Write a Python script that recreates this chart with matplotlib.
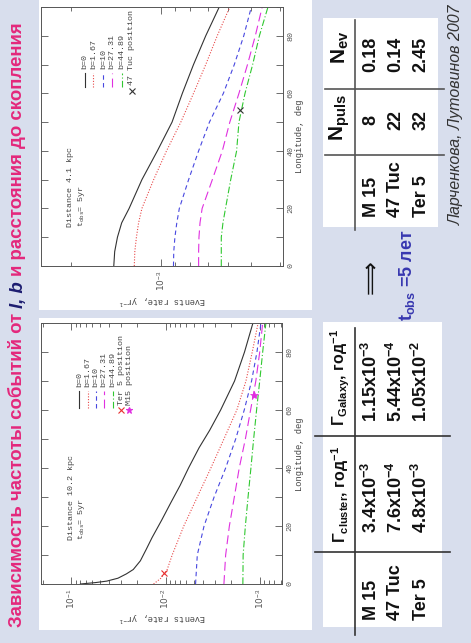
import matplotlib
matplotlib.use("Agg")
import matplotlib.pyplot as plt
import numpy as np
from matplotlib.lines import Line2D
from matplotlib.patches import Rectangle
from matplotlib.ticker import LogLocator, FuncFormatter, NullFormatter, MultipleLocator

plt.rcParams["mathtext.fontset"] = "custom"
plt.rcParams["mathtext.rm"] = "Liberation Sans"
plt.rcParams["mathtext.bf"] = "Liberation Sans:bold"
plt.rcParams["mathtext.it"] = "Liberation Sans:italic"

W, H = 471, 643

# ---- data: 47 Tuc, distance 4.1 kpc ----
lon_tuc = [0, 5, 10, 15, 20, 30, 40, 50, 60, 70, 80, 90]
tuc_b0 = [1.44e-3, 1.43e-3, 1.40e-3, 1.355e-3, 1.28e-3, 1.16e-3, 1.03e-3, 9.2e-4, 8.5e-4, 7.8e-4, 7.1e-4, 6.4e-4]
tuc_b167 = [1.23e-3, 1.225e-3, 1.21e-3, 1.19e-3, 1.16e-3, 1.06e-3, 9.6e-4, 8.6e-4, 7.8e-4, 7.1e-4, 6.5e-4, 5.9e-4]
tuc_b10 = [9.1e-4, 9.08e-4, 9.0e-4, 8.87e-4, 8.7e-4, 8.1e-4, 7.5e-4, 6.9e-4, 6.2e-4, 5.7e-4, 5.3e-4, 5.0e-4]
tuc_b2731 = [7.5e-4, 7.5e-4, 7.48e-4, 7.42e-4, 7.3e-4, 6.75e-4, 6.25e-4, 5.9e-4, 5.5e-4, 5.15e-4, 4.85e-4, 4.6e-4]
tuc_b4489 = [6.3e-4, 6.3e-4, 6.3e-4, 6.22e-4, 6.1e-4, 5.86e-4, 5.6e-4, 5.5e-4, 5.25e-4, 4.95e-4, 4.7e-4, 4.4e-4]
tuc_pos = (54.1, 5.44e-4)

# ---- data: distance 10.2 kpc (Ter 5, M15) ----
lon_b0 = [0, 0.5, 1, 2, 3.5, 5, 8, 12, 16, 22, 28, 34, 40, 47, 53, 60, 70, 80, 90]
far_b0 = [8.0e-2, 5.5e-2, 4.2e-2, 3.2e-2, 2.6e-2, 2.2e-2, 1.85e-2, 1.6e-2, 1.39e-2, 1.1e-2,
          8.8e-3, 7.0e-3, 5.7e-3, 4.4e-3, 3.4e-3, 2.6e-3, 1.85e-3, 1.45e-3, 1.18e-3]
lon_b167 = [0, 2, 5, 10, 20, 30, 40, 50, 60, 70, 80, 90]
far_b167 = [1.34e-2, 1.12e-2, 9.6e-3, 8.5e-3, 6.4e-3, 4.6e-3, 3.3e-3, 2.4e-3, 1.75e-3, 1.4e-3, 1.2e-3, 1.04e-3]
lon_far = [0, 10, 20, 30, 40, 50, 60, 70, 80, 90]
far_b10 = [4.8e-3, 4.6e-3, 3.9e-3, 3.05e-3, 2.3e-3, 1.8e-3, 1.46e-3, 1.22e-3, 1.07e-3, 9.7e-4]
far_b2731 = [2.4e-3, 2.3e-3, 2.1e-3, 1.86e-3, 1.65e-3, 1.42e-3, 1.25e-3, 1.1e-3, 1.0e-3, 9.3e-4]
far_b4489 = [1.51e-3, 1.5e-3, 1.42e-3, 1.33e-3, 1.24e-3, 1.16e-3, 1.08e-3, 1.0e-3, 9.3e-4, 8.6e-4]
ter5_pos = (3.8, 1.05e-2)
m15_pos = (65.0, 1.15e-3)

b_labels = ["b=0", "b=1.67", "b=10", "b=27.31", "b=44.89"]
line_colors = ["#333333", "#e84848", "#4848e0", "#e030e0", "#30c830"]
line_styles = ["-", (0, (1, 1.5)), (0, (4, 3)), (0, (8, 4)), (0, (6, 2, 1, 2))]

# ---- tables ----
names = ["M 15", "47 Tuc", "Ter 5"]
n_puls = ["8", "22", "32"]
n_ev = ["0.18", "0.14", "2.45"]
g_cluster = [r"3.4x10$^{\mathbf{-3}}$", r"7.6x10$^{\mathbf{-4}}$", r"4.8x10$^{\mathbf{-3}}$"]
g_galaxy = [r"1.15x10$^{\mathbf{-3}}$", r"5.44x10$^{\mathbf{-4}}$", r"1.05x10$^{\mathbf{-2}}$"]

BG = "#d8deed"
PINK = "#e4287c"
NAVY = "#1c1c70"
BLUE = "#3838b0"
PLOTFONT = "Liberation Mono"


def fx(px):
    return px / W


def fy(py):
    return 1 - py / H


def frect(x0, y0, x1, y1, **kw):
    fig.add_artist(Rectangle((fx(x0), fy(y1)), fx(x1) - fx(x0), fy(y0) - fy(y1),
                             transform=fig.transFigure, **kw))


def fline(x0, y0, x1, y1, **kw):
    fig.add_artist(Line2D([fx(x0), fx(x1)], [fy(y0), fy(y1)], transform=fig.transFigure, **kw))


def vtext(x, y, s, **kw):
    kw.setdefault("rotation", 90)
    kw.setdefault("rotation_mode", "anchor")
    return fig.text(fx(x), fy(y), s, **kw)


def log_label(v, pos):
    return r"10$^{%d}$" % int(round(np.log10(v)))


fig = plt.figure(figsize=(W / 100, H / 100), dpi=100)
fig.patch.set_facecolor(BG)

# white panels
frect(39, 0, 312, 310, facecolor="white", edgecolor="none", zorder=0)
frect(39, 318, 312, 630, facecolor="white", edgecolor="none", zorder=0)
frect(323, 18, 438, 227, facecolor="white", edgecolor="none", zorder=0)
frect(323, 322, 442, 627, facecolor="white", edgecolor="none", zorder=0)


def setup_axes(ax, xlim):
    ax.set_xscale("log")
    ax.set_xlim(*xlim)
    ax.set_ylim(0, 90)
    ax.xaxis.set_major_locator(LogLocator(base=10))
    ax.xaxis.set_minor_locator(LogLocator(base=10, subs=np.arange(2, 10)))
    ax.xaxis.set_major_formatter(FuncFormatter(log_label))
    ax.xaxis.set_minor_formatter(NullFormatter())
    ax.yaxis.set_major_locator(MultipleLocator(20))
    ax.yaxis.set_minor_locator(MultipleLocator(10))
    ax.tick_params(which="both", direction="in", top=True, bottom=True, left=True, right=True,
                   colors="#555555", width=0.6)
    ax.tick_params(which="major", length=5)
    ax.tick_params(which="minor", length=3)
    ax.tick_params(axis="y", which="minor", length=5)
    ax.tick_params(axis="y", labelleft=False, labelright=True, labelrotation=90, labelsize=6, pad=3)
    ax.tick_params(axis="x", labelrotation=90, labelsize=6.5, pad=3)
    for lab in ax.get_yticklabels():
        lab.set_fontfamily(PLOTFONT)
        lab.set_va("center")
    for sp in ax.spines.values():
        sp.set_color("#555555")
        sp.set_linewidth(0.7)


def draw_legend(ax, xs, y0, y1, ytext, extra):
    # xs: axes-fraction x of each row; samples run from y0 to y1 (axes fraction)
    for i, (lab, c, ls) in enumerate(zip(b_labels, line_colors, line_styles)):
        ax.plot([xs[i], xs[i]], [y0, y1], color=c, ls=ls, lw=0.8, transform=ax.transAxes)
        ax.text(xs[i], ytext, lab, transform=ax.transAxes, rotation=90, rotation_mode="anchor",
                ha="left", va="center", fontsize=6, family=PLOTFONT, color="#444444")
    for j, (lab, mk, c, ym, yt) in enumerate(extra):
        xi = xs[len(b_labels) + j]
        ax.plot([xi], [ym], marker=mk, color=c, ms=5, mew=0.8, ls="none", transform=ax.transAxes)
        ax.text(xi, yt, lab, transform=ax.transAxes, rotation=90, rotation_mode="anchor",
                ha="left", va="center", fontsize=6, family=PLOTFONT, color="#444444")


# ---- top plot: 47 Tuc ----
ax1 = fig.add_axes([fx(41), fy(266), fx(283) - fx(41), fy(7) - fy(266)])
ax1.set_facecolor("none")
for vals, c, ls in zip([tuc_b0, tuc_b167, tuc_b10, tuc_b2731, tuc_b4489], line_colors, line_styles):
    ax1.plot(vals, lon_tuc, color=c, ls=ls, lw=0.8)
ax1.plot([tuc_pos[1]], [tuc_pos[0]], marker="x", color="#333333", ms=5, mew=0.8, ls="none")
setup_axes(ax1, (2.52e-3, 3.92e-4))
draw_legend(ax1, [0.182, 0.216, 0.258, 0.292, 0.334, 0.375], 0.69, 0.745, 0.762,
            [("47 Tuc position", "x", "#333333", 0.675, 0.70)])
ax1.text(0.12, 0.15, "Distance 4.1 kpc", transform=ax1.transAxes, rotation=90, rotation_mode="anchor",
         ha="left", va="center", fontsize=6, family=PLOTFONT, color="#444444")
ax1.text(0.168, 0.15, r"t$_{\mathregular{obs}}$= 5yr", transform=ax1.transAxes, rotation=90,
         rotation_mode="anchor", ha="left", va="center", fontsize=6, family=PLOTFONT, color="#444444")

# ---- bottom plot: Ter 5, M15 ----
ax2 = fig.add_axes([fx(41), fy(584), fx(282) - fx(41), fy(323) - fy(584)])
ax2.set_facecolor("none")
far_lons = [lon_b0, lon_b167, lon_far, lon_far, lon_far]
far_vals = [far_b0, far_b167, far_b10, far_b2731, far_b4489]
for lons, vals, c, ls in zip(far_lons, far_vals, line_colors, line_styles):
    ax2.plot(vals, lons, color=c, ls=ls, lw=0.8)
ax2.plot([ter5_pos[1]], [ter5_pos[0]], marker="x", color="#e83030", ms=5, mew=0.8, ls="none")
ax2.plot([m15_pos[1]], [m15_pos[0]], marker="*", color="#e030e0", ms=6, mew=0.5, ls="none")
setup_axes(ax2, (0.21, 5.8e-4))
draw_legend(ax2, [0.159, 0.193, 0.228, 0.262, 0.297, 0.332, 0.366], 0.675, 0.74, 0.754,
            [("Ter 5 position", "x", "#e83030", 0.667, 0.685),
             ("M15 position", "*", "#e030e0", 0.667, 0.685)])
ax2.text(0.128, 0.168, "Distance 10.2 kpc", transform=ax2.transAxes, rotation=90, rotation_mode="anchor",
         ha="left", va="center", fontsize=6, family=PLOTFONT, color="#444444")
ax2.text(0.17, 0.168, r"t$_{\mathregular{obs}}$= 5yr", transform=ax2.transAxes, rotation=90,
         rotation_mode="anchor", ha="left", va="center", fontsize=6, family=PLOTFONT, color="#444444")

# axis labels (slide is rotated: longitude runs up, rate runs left)
for yc in (136, 454):
    vtext(300, yc, "Longitude, deg", ha="center", va="center", fontsize=6.3, family=PLOTFONT,
          color="#444444")
for yc, xc in ((300, 162), (617, 162)):
    fig.text(fx(xc), fy(yc), r"Events rate, yr$^{-1}$", rotation=180, ha="center", va="center",
             fontsize=6.3, family=PLOTFONT, color="#444444")

# ---- table 1: N_puls, N_ev ----
tk = dict(fontsize=13, weight="bold", family="Liberation Sans", color="#111111")
hk = dict(fontsize=15, weight="bold", family="Liberation Sans", color="#111111")
vtext(340, 47, r"$\mathbf{N}_{\mathbf{ev}}$", ha="center", va="center", **hk)
vtext(340, 118, r"$\mathbf{N}_{\mathbf{puls}}$", ha="center", va="center", **hk)
rows_x = [371, 396, 421]
for i, xr in enumerate(rows_x):
    vtext(xr, 217, names[i], ha="left", va="center", **tk)
    vtext(xr, 120, n_puls[i], ha="center", va="center", **tk)
    vtext(xr, 54, n_ev[i], ha="center", va="center", **tk)
fline(355, 20, 355, 230, color="#555555", lw=1.2)
fline(325, 89, 444, 89, color="#555555", lw=1.2)
fline(325, 155, 444, 155, color="#555555", lw=1.2)

# ---- table 2: Gamma ----
gk = dict(fontsize=11.5, weight="bold", family="Liberation Sans", color="#111111")
vtext(340, 377, r"$\mathbf{\Gamma}_{\mathbf{Galaxy}}$, год$^{\mathbf{-1}}$", ha="center", va="center", **gk)
vtext(340, 494, r"$\mathbf{\Gamma}_{\mathbf{cluster}}$, год$^{\mathbf{-1}}$", ha="center", va="center", **gk)
for i, xr in enumerate(rows_x):
    vtext(xr, 620, names[i], ha="left", va="center", **tk)
    vtext(xr, 497, g_cluster[i], ha="center", va="center", **tk)
    vtext(xr, 381, g_galaxy[i], ha="center", va="center", **tk)
fline(355, 328, 355, 635, color="#333333", lw=1.2)
fline(315, 436, 450, 436, color="#333333", lw=1.2)
fline(315, 552, 450, 552, color="#333333", lw=1.2)

# arrow and observation time
vtext(371, 277, "\u27f9", ha="center", va="center", fontsize=17, family="DejaVu Sans", color="#111111")
vtext(407, 275, r"$\mathbf{t}_{\mathbf{obs}}$ =5 лет", ha="center", va="center", fontsize=13,
      weight="bold", family="Liberation Sans", color=BLUE)

# reference
vtext(456, 115, "Ларченкова, Лутовинов 2007", ha="center", va="center", fontsize=11.5,
      style="italic", family="Liberation Sans", color="#333333")

# ---- title, three coloured pieces along the left edge ----
tsize = 13.4
renderer = fig.canvas.get_renderer()
t1 = vtext(18, 627, "Зависимость частоты событий от", ha="left", va="center", fontsize=tsize,
           weight="bold", family="Liberation Sans", color=PINK)
y_next = t1.get_window_extent(renderer).y1 + 5
t2 = fig.text(fx(18), y_next / fig.bbox.height, "l, b", rotation=90, rotation_mode="anchor",
              ha="left", va="center", fontsize=tsize, weight="bold", style="italic",
              family="Liberation Sans", color=NAVY)
y_next = t2.get_window_extent(renderer).y1 + 5
fig.text(fx(18), y_next / fig.bbox.height, "и расстояния до скопления", rotation=90, rotation_mode="anchor",
         ha="left", va="center", fontsize=tsize, weight="bold", family="Liberation Sans", color=PINK)

fig.savefig("out.png", dpi=100, facecolor=BG)
